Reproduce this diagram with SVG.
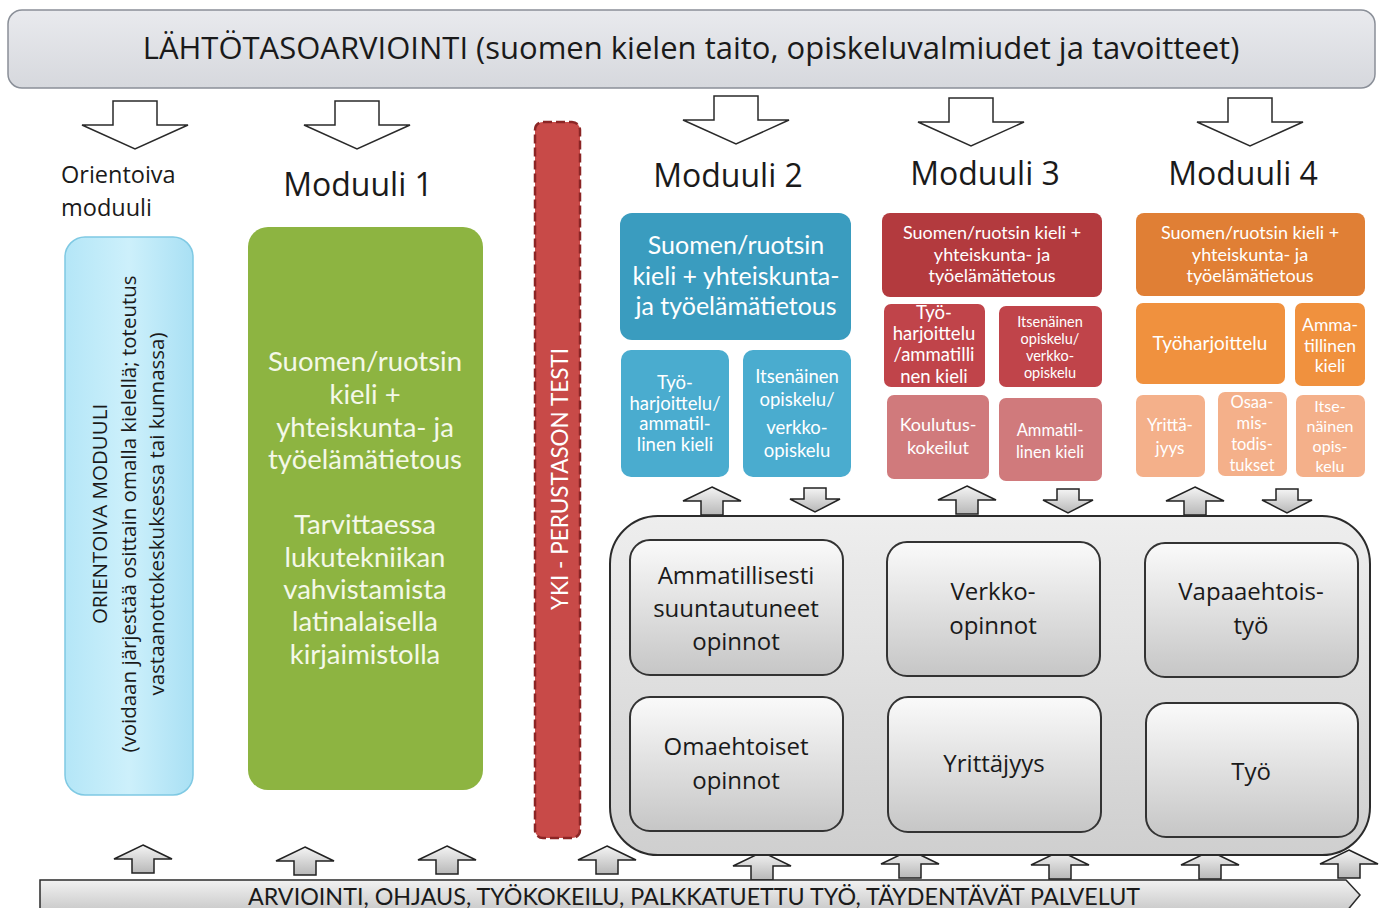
<svg xmlns="http://www.w3.org/2000/svg" width="1383" height="908" viewBox="0 0 1383 908">
<defs>
<linearGradient id="gTop" x1="0" y1="0" x2="0" y2="1"><stop offset="0" stop-color="#e9eaee"/><stop offset="1" stop-color="#d6d8dd"/></linearGradient>
<linearGradient id="gCyan" x1="0" y1="0" x2="1" y2="0"><stop offset="0" stop-color="#b4e6f7"/><stop offset="0.5" stop-color="#cdf0fb"/><stop offset="1" stop-color="#a9e0f4"/></linearGradient>
<linearGradient id="gCont" x1="0" y1="0" x2="0" y2="1"><stop offset="0" stop-color="#eeeeee"/><stop offset="1" stop-color="#cfcfcf"/></linearGradient>
<linearGradient id="gBox" x1="0" y1="0" x2="0" y2="1"><stop offset="0" stop-color="#fafafa"/><stop offset="1" stop-color="#c6c6c6"/></linearGradient>
<linearGradient id="gArr" x1="0" y1="0" x2="0" y2="1"><stop offset="0" stop-color="#f4f4f4"/><stop offset="1" stop-color="#b8b8b8"/></linearGradient>
<linearGradient id="gBar" x1="0" y1="0" x2="0" y2="1"><stop offset="0" stop-color="#f2f2f2"/><stop offset="1" stop-color="#c8c8c8"/></linearGradient>
<path id="dn" d="M-22,0 H22 V24 H53 L0,48 L-53,24 H-22 Z"/>
<path id="up" d="M0,0 L29,14 H11 V28 H-11 V14 H-29 Z"/>
<path id="sdn" d="M-11,0 H11 V11 H25 L0,24 L-25,11 H-11 Z"/>
</defs>
<style>
.t{font-family:"Open Sans","Liberation Sans",sans-serif;fill:#1a1a1a}
.c{font-family:Lato,"Open Sans",sans-serif}
.w{fill:#ffffff}
.dn{fill:#ffffff;stroke:#2a2a2a;stroke-width:1.5}
.up{fill:url(#gArr);stroke:#222;stroke-width:1.5}
.box{fill:url(#gBox);stroke:#333;stroke-width:2}
</style>
<rect width="1383" height="908" fill="#ffffff"/>

<g id="top-banner">
<rect x="8" y="10" width="1367" height="78" rx="14" fill="url(#gTop)" stroke="#8a8f98" stroke-width="1.5"/>
<text x="691" y="59" text-anchor="middle" class="t" font-size="31">LÄHTÖTASOARVIOINTI (suomen kielen taito, opiskeluvalmiudet ja tavoitteet)</text>
</g>

<g id="connectors">
<use href="#dn" x="135" y="101" class="dn"/>
<use href="#dn" x="357" y="101" class="dn"/>
<use href="#dn" x="736" y="96" class="dn"/>
<use href="#dn" x="971" y="98" class="dn"/>
<use href="#dn" x="1250" y="98" class="dn"/>
<use href="#up" x="712" y="487" class="up"/>
<use href="#sdn" x="815" y="488" class="up"/>
<use href="#up" x="967" y="486" class="up"/>
<use href="#sdn" x="1068" y="489" class="up"/>
<use href="#up" x="1195" y="487" class="up"/>
<use href="#sdn" x="1287" y="489" class="up"/>
<use href="#up" x="143" y="845" class="up"/>
<use href="#up" x="305" y="847" class="up"/>
<use href="#up" x="447" y="846" class="up"/>
<use href="#up" x="607" y="846" class="up"/>
<use href="#up" x="762" y="852" class="up"/>
<use href="#up" x="910" y="850" class="up"/>
<use href="#up" x="1060" y="851" class="up"/>
<use href="#up" x="1210" y="851" class="up"/>
<use href="#up" x="1349" y="850" class="up"/>
</g>

<g id="labels">
<text x="61" y="183" class="t" font-size="23.5">Orientoiva</text>
<text x="61" y="216" class="t" font-size="23.5">moduuli</text>
<text x="358" y="196" text-anchor="middle" class="t" font-size="32">Moduuli 1</text>
<text x="728" y="187" text-anchor="middle" class="t" font-size="32">Moduuli 2</text>
<text x="985" y="185" text-anchor="middle" class="t" font-size="32">Moduuli 3</text>
<text x="1243" y="185" text-anchor="middle" class="t" font-size="32">Moduuli 4</text>
</g>

<g id="orientoiva">
<rect x="65" y="237" width="128" height="558" rx="20" fill="url(#gCyan)" stroke="#7fc9e3" stroke-width="1.5"/>
<g transform="translate(129,514) rotate(-90)" class="t" font-size="20.5" text-anchor="middle">
<text x="0" y="-22">ORIENTOIVA MODUULI</text>
<text x="0" y="7">(voidaan järjestää osittain omalla kielellä; toteutus</text>
<text x="0" y="35">vastaanottokeskuksessa tai kunnassa)</text>
</g>
</g>

<g id="moduuli1">
<rect x="248" y="227" width="235" height="563" rx="20" fill="#8db441"/>
<g class="c" fill="#f4f8e8" font-size="27.5" text-anchor="middle">
<text x="365" y="371">Suomen/ruotsin</text>
<text x="365" y="404">kieli +</text>
<text x="365" y="437">yhteiskunta- ja</text>
<text x="365" y="469">työelämätietous</text>
<text x="365" y="534">Tarvittaessa</text>
<text x="365" y="567">lukutekniikan</text>
<text x="365" y="599">vahvistamista</text>
<text x="365" y="631">latinalaisella</text>
<text x="365" y="664">kirjaimistolla</text>
</g>
</g>

<g id="yki">
<rect x="535" y="122" width="45" height="716" rx="8" fill="#c84a48" stroke="#8b2525" stroke-width="2.5" stroke-dasharray="9,4"/>
<text transform="translate(568,479) rotate(-90)" text-anchor="middle" class="c" fill="#ffffff" font-size="22.5">YKI - PERUSTASON TESTI</text>
</g>

<g id="moduuli2">
<rect x="620" y="213" width="231" height="127" rx="12" fill="#3a9cbf"/>
<g class="c w" font-size="25" text-anchor="middle">
<text x="736" y="254">Suomen/ruotsin</text>
<text x="736" y="285">kieli + yhteiskunta-</text>
<text x="736" y="315">ja työelämätietous</text>
</g>
<rect x="621" y="350" width="108" height="127" rx="10" fill="#4aaccf"/>
<g class="c w" font-size="18.5" text-anchor="middle">
<text x="675" y="389">Työ-</text>
<text x="675" y="410">harjoittelu/</text>
<text x="675" y="430">ammatil-</text>
<text x="675" y="451">linen kieli</text>
</g>
<rect x="743" y="350" width="108" height="127" rx="10" fill="#4aaccf"/>
<g class="c w" font-size="18.5" text-anchor="middle">
<text x="797" y="383">Itsenäinen</text>
<text x="797" y="406">opiskelu/</text>
<text x="797" y="434">verkko-</text>
<text x="797" y="457">opiskelu</text>
</g>
</g>

<g id="moduuli3">
<rect x="882" y="213" width="220" height="84" rx="8" fill="#b33a3e"/>
<g class="c w" font-size="18" text-anchor="middle">
<text x="992" y="239">Suomen/ruotsin kieli +</text>
<text x="992" y="261">yhteiskunta- ja</text>
<text x="992" y="282">työelämätietous</text>
</g>
<rect x="884" y="304" width="101" height="83" rx="7" fill="#c0444a"/>
<g class="c w" font-size="18.5" text-anchor="middle">
<text x="934" y="319">Työ-</text>
<text x="934" y="340">harjoittelu</text>
<text x="934" y="361">/ammatilli</text>
<text x="934" y="383">nen kieli</text>
</g>
<rect x="999" y="306" width="103" height="81" rx="7" fill="#c0444a"/>
<g class="c w" font-size="14.5" text-anchor="middle">
<text x="1050" y="327">Itsenäinen</text>
<text x="1050" y="344">opiskelu/</text>
<text x="1050" y="361">verkko-</text>
<text x="1050" y="378">opiskelu</text>
</g>
<rect x="887" y="395" width="102" height="84" rx="7" fill="#d07a7c"/>
<g class="c w" font-size="18" text-anchor="middle">
<text x="938" y="431">Koulutus-</text>
<text x="938" y="454">kokeilut</text>
</g>
<rect x="999" y="398" width="103" height="83" rx="7" fill="#d07a7c"/>
<g class="c w" font-size="16.5" text-anchor="middle">
<text x="1050" y="436">Ammatil-</text>
<text x="1050" y="458">linen kieli</text>
</g>
</g>

<g id="moduuli4">
<rect x="1136" y="213" width="229" height="83" rx="8" fill="#e07f35"/>
<g class="c w" font-size="18" text-anchor="middle">
<text x="1250" y="239">Suomen/ruotsin kieli +</text>
<text x="1250" y="261">yhteiskunta- ja</text>
<text x="1250" y="282">työelämätietous</text>
</g>
<rect x="1136" y="303" width="149" height="81" rx="7" fill="#f0913e"/>
<text x="1210" y="350" text-anchor="middle" class="c w" font-size="19">Työharjoittelu</text>
<rect x="1295" y="303" width="70" height="83" rx="7" fill="#f0913e"/>
<g class="c w" font-size="17.5" text-anchor="middle">
<text x="1330" y="331">Amma-</text>
<text x="1330" y="352">tillinen</text>
<text x="1330" y="372">kieli</text>
</g>
<rect x="1136" y="395" width="69" height="82" rx="7" fill="#f4b08a"/>
<g class="c w" font-size="17" text-anchor="middle">
<text x="1170" y="431">Yrittä-</text>
<text x="1170" y="454">jyys</text>
</g>
<rect x="1218" y="392" width="69" height="84" rx="7" fill="#f4b08a"/>
<g class="c w" font-size="16.5" text-anchor="middle">
<text x="1252" y="408">Osaa-</text>
<text x="1252" y="429">mis-</text>
<text x="1252" y="450">todis-</text>
<text x="1252" y="471">tukset</text>
</g>
<rect x="1296" y="395" width="69" height="82" rx="7" fill="#f4b08a"/>
<g class="c w" font-size="16" text-anchor="middle">
<text x="1330" y="412">Itse-</text>
<text x="1330" y="432">näinen</text>
<text x="1330" y="452">opis-</text>
<text x="1330" y="472">kelu</text>
</g>
</g>

<g id="container">
<rect x="610" y="516" width="760" height="339" rx="48" fill="url(#gCont)" stroke="#2b2b2b" stroke-width="2"/>
</g>

<g id="ammatillisesti">
<rect x="630" y="540" width="213" height="135" rx="20" class="box"/>
<g class="t" font-size="24" text-anchor="middle"><text x="736" y="584">Ammatillisesti</text><text x="736" y="617">suuntautuneet</text><text x="736" y="650">opinnot</text></g>
</g>
<g id="verkko">
<rect x="887" y="542" width="213" height="134" rx="20" class="box"/>
<g class="t" font-size="24" text-anchor="middle"><text x="993" y="600">Verkko-</text><text x="993" y="634">opinnot</text></g>
</g>
<g id="vapaaehtois">
<rect x="1145" y="543" width="213" height="134" rx="20" class="box"/>
<g class="t" font-size="24" text-anchor="middle"><text x="1251" y="600">Vapaaehtois-</text><text x="1251" y="634">työ</text></g>
</g>
<g id="omaehtoiset">
<rect x="630" y="697" width="213" height="134" rx="20" class="box"/>
<g class="t" font-size="24" text-anchor="middle"><text x="736" y="755">Omaehtoiset</text><text x="736" y="789">opinnot</text></g>
</g>
<g id="yrittajyys">
<rect x="888" y="697" width="213" height="135" rx="20" class="box"/>
<text x="994" y="772" text-anchor="middle" class="t" font-size="24">Yrittäjyys</text>
</g>
<g id="tyo">
<rect x="1146" y="703" width="212" height="134" rx="20" class="box"/>
<text x="1251" y="780" text-anchor="middle" class="t" font-size="24">Työ</text>
</g>

<g id="bottom-bar">
<path d="M40,880 H1346 L1360,895 L1346,912 H40 Z" fill="url(#gBar)" stroke="#2b2b2b" stroke-width="1.5"/>
<text x="694" y="905" text-anchor="middle" class="c" fill="#1a1a1a" font-size="23.3">ARVIOINTI, OHJAUS, TYÖKOKEILU, PALKKATUETTU TYÖ, TÄYDENTÄVÄT PALVELUT</text>
</g>
</svg>
